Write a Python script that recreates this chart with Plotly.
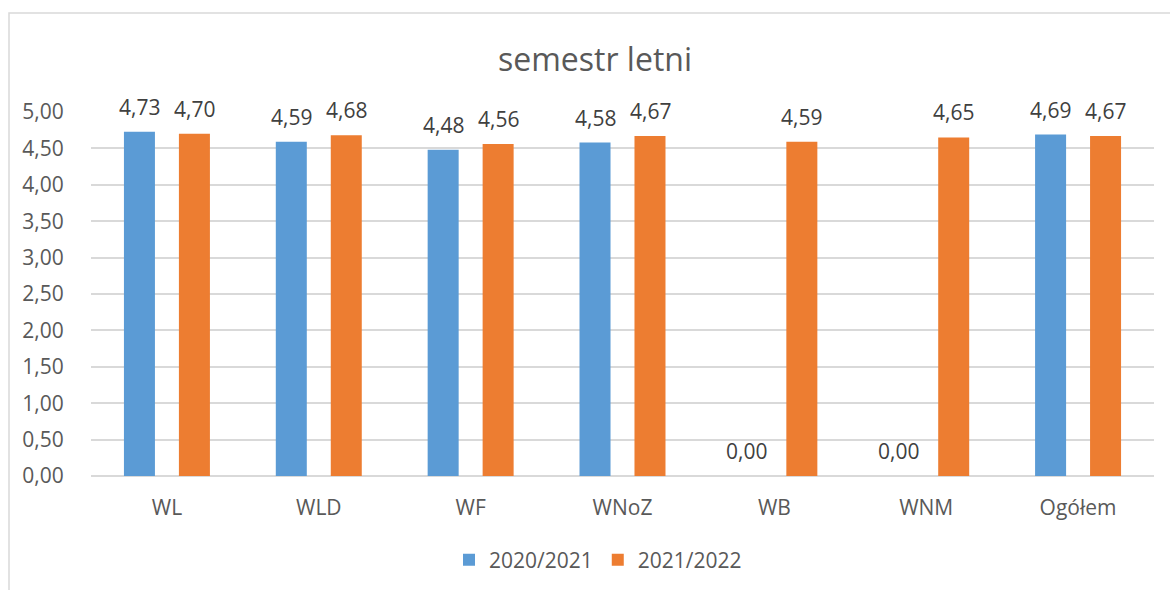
import plotly.graph_objects as go

categories = ["WL", "WLD", "WF", "WNoZ", "WB", "WNM", "Ogółem"]
series_2020 = [4.73, 4.59, 4.48, 4.58, 0.00, 0.00, 4.69]
series_2021 = [4.70, 4.68, 4.56, 4.67, 4.59, 4.65, 4.67]
series_names = ["2020/2021", "2021/2022"]
y_ticks = [0, 0.5, 1, 1.5, 2, 2.5, 3, 3.5, 4, 4.5, 5]

FONT = "Open Sans, Liberation Sans, sans-serif"
TXT = "#595959"
LBL = "#404040"
colors = ["#5B9BD5", "#ED7D31"]
label_shift = [-27.5, 27.5]

fig = go.Figure()
for name, vals, col in zip(series_names, [series_2020, series_2021], colors):
    fig.add_trace(go.Bar(
        x=categories, y=vals, name=name,
        marker=dict(color=col, line=dict(width=0)),
        hoverinfo="x+y",
    ))

# data labels placed at each bar's value
for vals, dx in zip([series_2020, series_2021], label_shift):
    for c, v in zip(categories, vals):
        fig.add_annotation(x=c, y=v, xref="x", yref="y",
                           text=f"{v:.2f}".replace(".", ","),
                           showarrow=False, xshift=dx, yshift=25,
                           xanchor="center", yanchor="middle",
                           font=dict(family=FONT, size=21, color=LBL))

fig.update_layout(
    width=1170, height=590,
    paper_bgcolor="white", plot_bgcolor="white",
    separators=", ",
    barmode="group", bargap=0.276, bargroupgap=0.436,
    margin=dict(l=91, r=16, t=112, b=114, autoexpand=False),
    title=dict(text="semestr letni", x=595/1170, xanchor="center",
               y=1-60/590, yanchor="middle", yref="container",
               font=dict(family=FONT, size=32, color=TXT)),
    font=dict(family=FONT, size=21, color=TXT),
    showlegend=True,
    legend=dict(orientation="h", x=598/1170, xanchor="center", xref="container",
                y=30/590, yanchor="middle", yref="container",
                font=dict(family=FONT, size=21, color=TXT),
                itemwidth=30, traceorder="normal"),
)
fig.update_yaxes(range=[0, 5], tickvals=y_ticks, tickformat=".2f",
                 showgrid=True, gridcolor="#D9D9D9", gridwidth=1.5,
                 zeroline=True, zerolinecolor="#D9D9D9", zerolinewidth=1.5,
                 showline=False, ticks="outside", ticklen=22, tickcolor="rgba(0,0,0,0)",
                 tickfont=dict(family=FONT, size=21, color=TXT), automargin=False)
fig.update_xaxes(showgrid=False, showline=False, ticks="outside", ticklen=13,
                 tickcolor="rgba(0,0,0,0)", automargin=False,
                 tickfont=dict(family=FONT, size=21, color=TXT))

fig.add_shape(type="rect", xref="paper", yref="paper",
              x0=(9-91)/1063, x1=1.2, y0=-0.6, y1=(476-13)/364,
              line=dict(color="#D9D9D9", width=1.5), fillcolor="rgba(0,0,0,0)",
              layer="below")

fig.write_html("out.html", config={"displayModeBar": False},
               post_script="document.body.style.margin='0px';")
